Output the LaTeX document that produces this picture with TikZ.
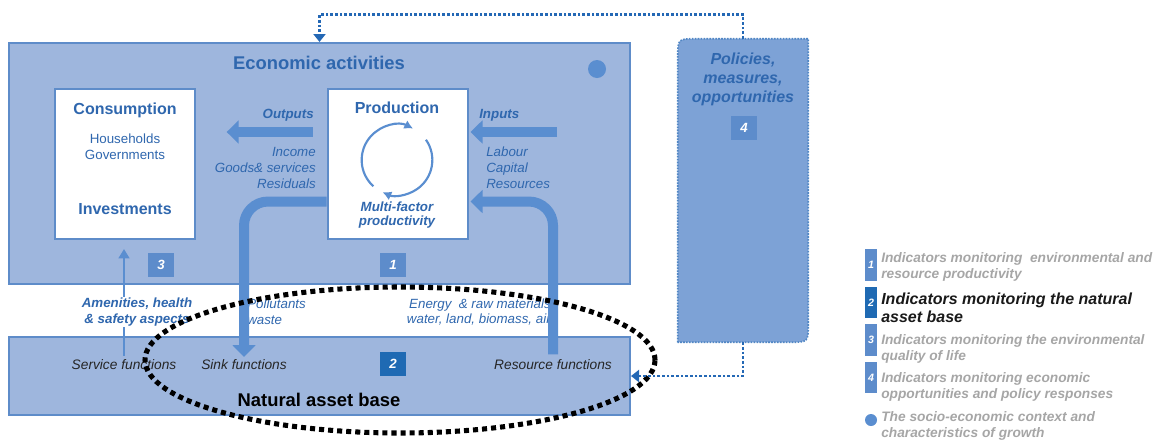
\documentclass[tikz,border=0pt]{standalone}
\usepackage{fontspec}
\setmainfont{Liberation Sans}
\usepackage{xcolor}
\usepackage{tikz}
\usetikzlibrary{
    arrows.meta,
    positioning,
    shapes.geometric,
    calc
}

\definecolor{boxblue}{HTML}{9EB6DD}
\definecolor{edgeblue}{HTML}{5E8CC9}
\definecolor{textblue}{HTML}{2F67AE}
\definecolor{arrowblue}{HTML}{5A8ED0}
\definecolor{polblue}{HTML}{7DA2D6}
\definecolor{dotblue}{HTML}{2468B5}
\definecolor{numblue}{HTML}{5D8CCB}
\definecolor{darkblue}{HTML}{1F6AB3}
\definecolor{legendgrey}{HTML}{A6A6A6}

\begin{document}
\begin{tikzpicture}[
        x=0.75pt, y=-0.75pt,
        bigbox/.style={
            rectangle,
            draw=edgeblue,
            line width=1.5pt,
            fill=boxblue,
            minimum width=465.75pt
        },
        whitebox/.style={
            rectangle,
            draw=edgeblue,
            line width=1.5pt,
            fill=white,
            minimum width=105pt,
            minimum height=112.5pt
        },
        numbox/.style={
            rectangle,
            fill=numblue,
            text=white,
            font=\bfseries\itshape\fontsize{10}{12}\selectfont,
            minimum width=19.5pt,
            minimum height=18pt,
            inner sep=0pt
        },
        boxtitle/.style={
            font=\bfseries\fontsize{12}{14}\selectfont,
            text=textblue,
            inner sep=0pt
        },
        plaintext/.style={
            font=\fontsize{10}{12}\selectfont,
            text=textblue,
            align=center,
            inner sep=0pt
        },
        flowtext/.style={
            font=\itshape\fontsize{10}{12}\selectfont,
            text=textblue,
            inner sep=0pt
        },
        boldflow/.style={
            font=\bfseries\itshape\fontsize{10}{10.5}\selectfont,
            text=textblue,
            align=center,
            inner sep=0pt
        },
        functext/.style={
            font=\itshape\fontsize{10.3}{12}\selectfont,
            text=black!85,
            inner sep=0pt
        },
        fatarrow/.style={
            -{Triangle[length=9pt, width=17pt]},
            line width=7.5pt,
            draw=arrowblue
        },
        thinarrow/.style={
            -{Triangle[length=7pt, width=8pt]},
            line width=2pt,
            draw=arrowblue
        },
        cyclearrow/.style={
            -{Latex[length=6.5pt, width=7pt]},
            line width=1.6pt,
            draw=arrowblue
        },
        dotarrow/.style={
            -{Triangle[length=6pt, width=9pt]},
            line width=2pt,
            dash pattern=on 2pt off 1.5pt,
            draw=dotblue
        },
        dotring/.style={
            line width=3.8pt,
            dash pattern=on 3.8pt off 3pt,
            draw=black
        },
        polbox/.style={
            fill=polblue,
            draw=dotblue!80,
            line width=1.2pt,
            dash pattern=on 1.2pt off 1pt
        },
        legbar/.style={
            rectangle,
            fill=numblue,
            text=white,
            font=\bfseries\itshape\fontsize{8}{8}\selectfont,
            minimum width=9pt,
            inner sep=0pt
        },
        legtext/.style={
            font=\bfseries\itshape\fontsize{10.3}{12}\selectfont,
            text=legendgrey,
            align=left,
            anchor=west,
            inner sep=0pt
        }
    ]

    \useasboundingbox (0,0) rectangle (1163,440);

    \node[bigbox, minimum height=180.75pt] (econ) at (319.5,163.5) {};
    \node[bigbox, minimum height=58.5pt] (nat) at (319.5,376) {};

    \node[minimum width=97.5pt, minimum height=227.25pt, inner sep=0pt] (pol) at (743,190.5) {};
    \draw[polbox] (pol.south west) -- ([yshift=-14pt]pol.north west)
        .. controls (pol.north west) .. ([xshift=14pt]pol.north west)
        -- (pol.north east) -- ([yshift=14pt]pol.south east)
        .. controls (pol.south east) .. ([xshift=-14pt]pol.south east) -- cycle;

    \node[boxtitle, font=\bfseries\fontsize{13.8}{16}\selectfont] (econtitle) at (319,63)
        {Economic activities};
    \node[circle, fill=arrowblue, minimum size=13.5pt, inner sep=0pt] (ctxdot) at (597,69) {};

    \node[whitebox] (cons) at (125,164) {};
    \node[boxtitle] (constitle) at (125,110) {Consumption};
    \node[plaintext] (agents) at (125,147) {Households\\Governments};
    \node[boxtitle] (invest) at (125,209) {Investments};

    \node[whitebox] (prod) at (397.5,164) {};
    \node[boxtitle] (prodtitle) at (397,108) {Production};
    \node[boldflow] (mfp) at (397,215) {Multi-factor\\productivity};

    \begin{scope}[shift={(397,160)}, x=1pt, y=1pt]
        \draw[cyclearrow] (228:26.5pt) arc[start angle=228, end angle=63, radius=26.5pt];
        \draw[cyclearrow] (35:26.5pt) arc[start angle=35, end angle=-114, radius=26.5pt];
    \end{scope}

    \node[boldflow, anchor=east] (outputs) at (314,115) {Outputs};
    \node[flowtext, align=right, anchor=east] (outlist) at (316,168)
        {Income\\Goods\& services\\Residuals};
    \node[boldflow, anchor=west] (inputs) at (479,115) {Inputs};
    \node[flowtext, align=left, anchor=west] (inlist) at (486,168)
        {Labour\\Capital\\Resources};

    \node[numbox] (n3) at (161,265) {3};
    \node[numbox] (n1) at (393,265) {1};
    \node[numbox, fill=darkblue] (n2) at (393,364) {2};
    \node[numbox] (n4) at (744,128) {4};

    \node[boldflow, font=\bfseries\itshape\fontsize{12}{14.25}\selectfont] (poltext) at (743,79)
        {Policies,\\measures,\\opportunities};

    \node[functext] (svc) at (124,365) {Service functions};
    \node[functext] (sink) at (244,365) {Sink functions};
    \node[functext] (res) at (553,365) {Resource functions};
    \node[font=\bfseries\fontsize{13.8}{16}\selectfont] (nattitle) at (319,400) {Natural asset base};

    \node[flowtext, align=left, anchor=west] (pollut) at (247,312) {Pollutants\\waste};
    \node[flowtext, align=right, anchor=east, font=\itshape\fontsize{10}{11.5}\selectfont] (energy) at (551,312)
        {Energy \ \& raw materials\\water, land, biomass, air};

    \coordinate (infeed) at (557,132);

    \draw[fatarrow, shorten <=10.5pt, shorten >=23pt] ([yshift=24pt]prod.west) -- ([yshift=24pt]cons.east);
    \draw[fatarrow, shorten >=1.5pt] (infeed) -- (infeed -| prod.east);
    \draw[fatarrow, rounded corners=18pt, shorten >=2pt] (prod.west |- mfp.north) -| (sink.north);
    \draw[fatarrow, rounded corners=18pt, shorten <=4pt, shorten >=1.5pt] (res.north) |- (prod.east |- mfp.north);
    \draw[thinarrow, shorten <=3pt, shorten >=6.75pt] (svc.north) -- (svc.north |- cons.south);

    \node[boldflow, fill=white, inner sep=1pt, font=\bfseries\itshape\fontsize{10}{11.5}\selectfont] (amen) at (137,312)
        {Amenities, health\\\& safety aspects};

    \draw[dotring] (400,360) ellipse [x radius=191.25pt, y radius=54.75pt];

    \draw[dotarrow] (pol.north) -- ++(0,-24) -| (econ.north);
    \draw[dotarrow] (pol.south) |- (nat.east);

    \node[legbar, minimum height=24pt] (leg1bar) at (871,265) {1};
    \node[legtext] (leg1) at (881,267)
        {Indicators monitoring \ environmental and\\resource productivity};
    \node[legbar, minimum height=23.25pt, fill=darkblue] (leg2bar) at (871,302.5) {2};
    \node[legtext, text=black!90, font=\bfseries\itshape\fontsize{12}{13.5}\selectfont] (leg2) at (881,308)
        {Indicators monitoring the natural\\asset base};
    \node[legbar, minimum height=24pt] (leg3bar) at (871,340) {3};
    \node[legtext] (leg3) at (881,348.5)
        {Indicators monitoring the environmental\\quality of life};
    \node[legbar, minimum height=23.25pt] (leg4bar) at (871,377.5) {4};
    \node[legtext] (leg4) at (881,387)
        {Indicators monitoring economic\\opportunities and policy responses};
    \node[circle, fill=arrowblue, minimum size=9pt, inner sep=0pt] (legdot) at (871,420) {};
    \node[legtext] (leg5) at (881,426)
        {The socio-economic context and\\characteristics of growth};

\end{tikzpicture}
\end{document}
